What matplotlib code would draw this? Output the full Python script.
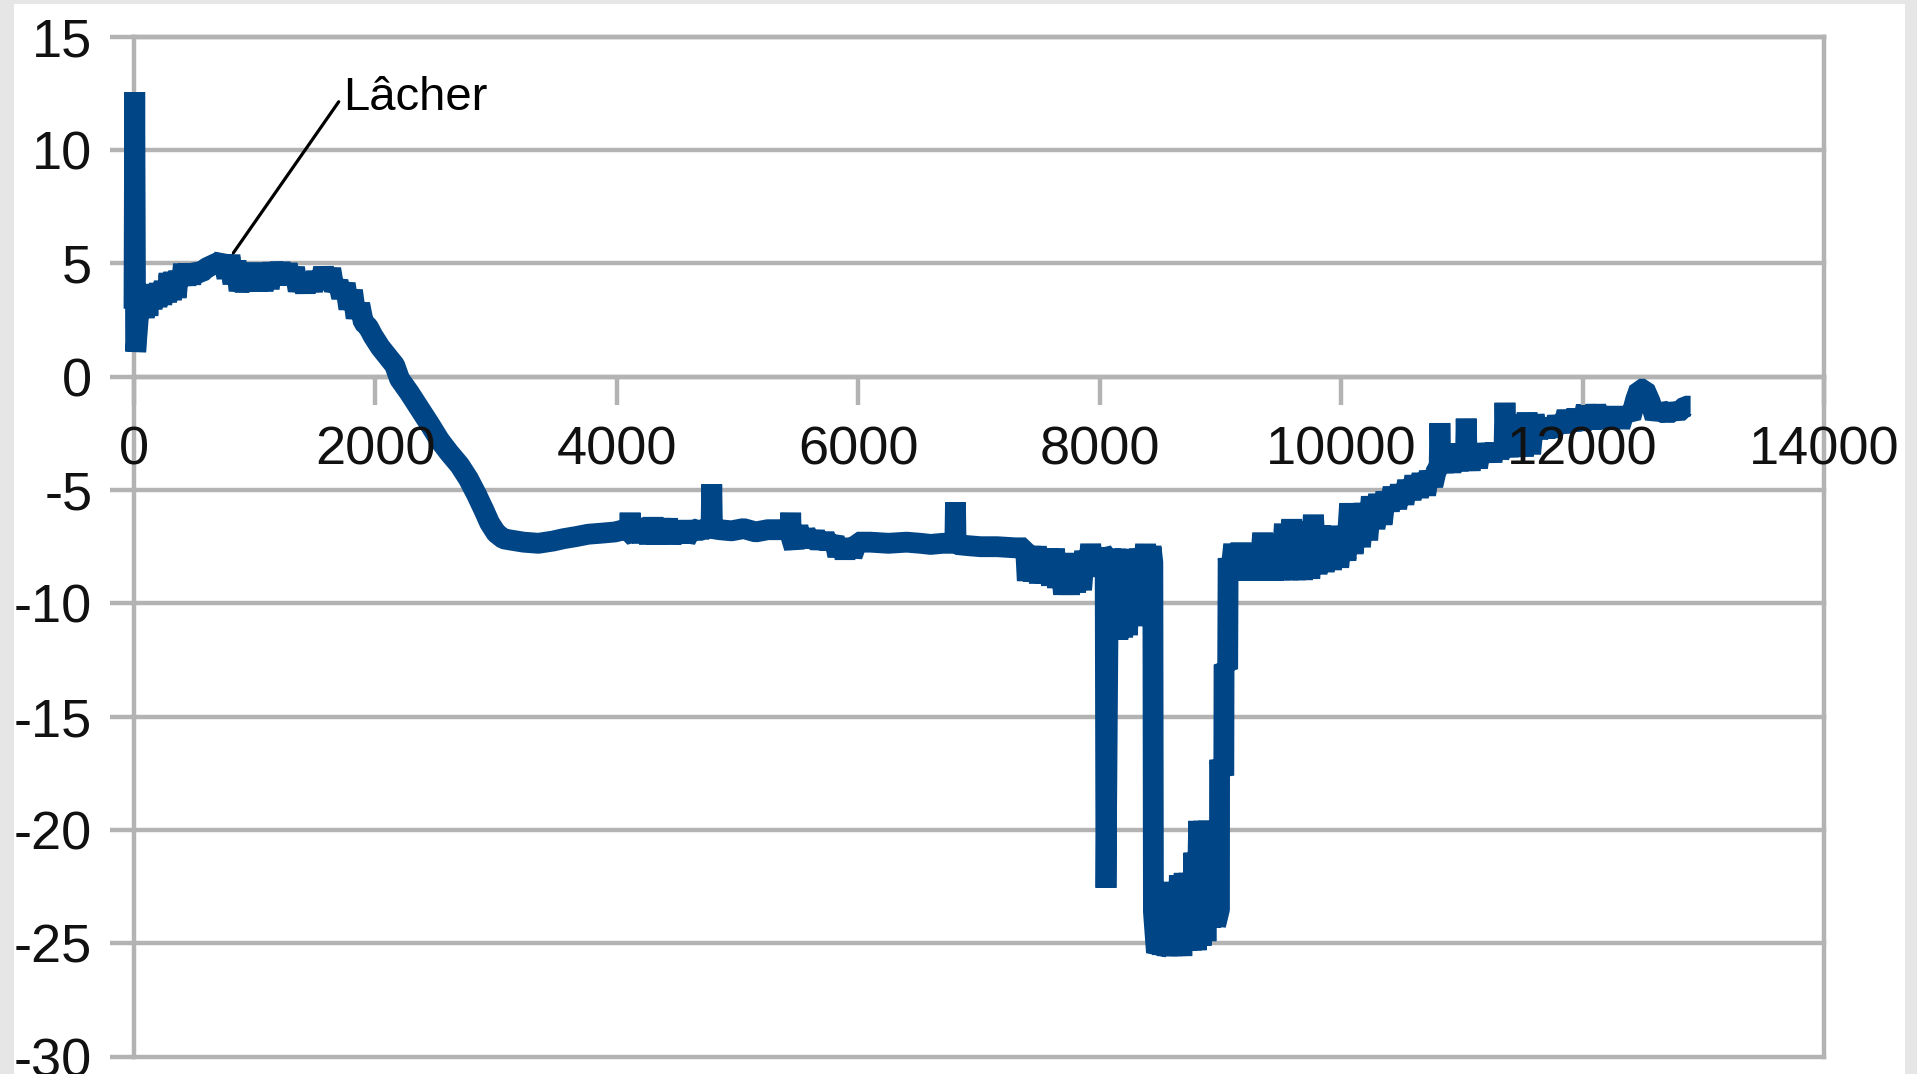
import matplotlib
matplotlib.use("Agg")
import matplotlib.pyplot as plt
from matplotlib.patches import Rectangle
import numpy as np

plt.rcParams['font.family'] = ['Liberation Sans', 'DejaVu Sans']

# ---------------- data ----------------
# start spike and plateau
x_start = [0, 6, 14, 40, 70, 85, 100, 115, 130, 150, 170, 190, 210, 230, 250, 270, 290,
           310, 330, 350, 370, 390, 410, 430, 450, 470, 490, 520, 560, 600, 640, 680,
           720, 745, 770, 795, 820, 845, 870, 895, 920, 945, 970, 995, 1020, 1045, 1070,
           1095, 1120, 1150, 1180, 1210, 1240, 1270, 1300, 1330, 1360, 1390, 1420, 1450,
           1480, 1510, 1540, 1570, 1600, 1630, 1660, 1690, 1720, 1750, 1780, 1810, 1840,
           1870, 1900, 1940, 1980, 2040, 2100, 2160]
y_start = [3.0, 12.55, 1.1, 2.9, 3.85, 2.6, 3.9, 2.7, 4.0, 3.0, 4.05, 3.1, 4.1, 3.2, 4.2, 3.3, 4.55,
           3.4, 4.6, 3.5, 4.65, 4.05, 4.95, 4.05, 4.95, 4.1, 4.9, 4.6, 4.6, 4.8, 4.9, 5.0,
           5.05, 5.3, 4.35, 5.35, 4.1, 5.1, 3.8, 4.4, 3.8, 4.85, 3.9, 5.0, 3.8, 4.8, 3.8,
           4.9, 3.9, 5.0, 4.1, 5.0, 4.15, 4.95, 4.1, 4.8, 3.8, 4.4, 3.75, 4.45,
           3.8, 4.6, 3.9, 4.8, 4.0, 4.75, 3.8, 4.2, 3.5, 4.1, 3.0, 3.8, 2.6,
           3.2, 2.4, 2.2, 1.8, 1.3, 0.9, 0.5]

# descent
x_descent = [2200, 2280, 2365, 2450, 2531, 2610, 2697, 2770, 2838, 2900, 2946, 3000, 3060]
y_descent = [-0.1, -0.7, -1.4, -2.1, -2.8, -3.35, -3.9, -4.5, -5.2, -5.9, -6.45, -6.9, -7.15]

# long flat part
x_flat = [3112, 3228, 3350, 3472, 3555, 3666, 3762, 3880, 3984, 4060, 4105, 4110, 4115,
          4150, 4180, 4210, 4240, 4270, 4300, 4330, 4360, 4390, 4420, 4450, 4480, 4510,
          4540, 4570, 4620, 4680, 4740, 4780, 4786, 4792, 4850, 4950, 5050, 5150, 5250,
          5350, 5435, 5440, 5445, 5470, 5500, 5530, 5560, 5600, 5640, 5680, 5720, 5760,
          5800, 5830, 5860, 5890, 5920, 5950, 5990, 6100, 6250, 6400, 6515, 6600, 6700,
          6800, 6805, 6810, 6900, 7013, 7150, 7300, 7386]
y_flat = [-7.2, -7.3, -7.35, -7.25, -7.15, -7.05, -6.95, -6.9, -6.85, -6.75, -6.8, -6.0, -6.9,
          -7.1, -6.3, -7.3, -6.3, -7.35, -6.25, -7.35, -6.3, -7.3, -6.3, -7.35, -6.4, -7.3,
          -6.4, -7.2, -6.7, -6.8, -6.7, -6.75, -4.75, -6.7, -6.75, -6.8, -6.7, -6.85, -6.75,
          -6.75, -6.7, -6.0, -7.1, -7.55, -6.6, -7.5, -6.8, -7.4, -6.9, -7.5, -7.0, -7.5,
          -7.1, -7.9, -7.2, -8.0, -7.2, -7.9, -7.3, -7.3, -7.35, -7.3, -7.35, -7.4, -7.35,
          -7.35, -5.55, -7.4, -7.45, -7.5, -7.5, -7.55, -7.55]

# noisy part and the two dips
x_dip = [7400, 7425, 7450, 7475, 7500, 7525, 7550, 7575, 7600, 7625, 7650, 7675, 7700,
         7725, 7750, 7775, 7800, 7825, 7850, 7875, 7900, 7925, 7950, 7975, 8000, 8020,
         8045, 8052, 8068, 8090, 8110, 8130, 8150, 8170, 8190, 8210, 8230, 8250, 8270,
         8290, 8310, 8330, 8355, 8380, 8405, 8425, 8440, 8445, 8470,
         8480, 8500, 8520, 8540, 8560, 8580, 8600, 8620, 8640, 8660, 8680, 8700, 8720,
         8740, 8760, 8780, 8800, 8820, 8840, 8860, 8880, 8900, 8920, 8940, 8960,
         8992, 8993, 9028, 9030, 9060, 9064]
y_dip = [-9.0, -7.5, -9.0, -7.5, -9.1, -7.6, -9.1, -7.6, -9.2, -7.6, -9.3, -7.9, -9.6,
         -7.8, -9.6, -8.0, -9.5, -8.0, -9.4, -7.7, -8.8, -7.4, -8.7, -7.6, -8.6, -7.7,
         -7.9, -22.55, -11.5, -7.6, -11.6, -7.6, -11.6, -7.7, -11.5, -7.6, -11.4, -7.8, -11.0,
         -7.7, -10.2, -7.6, -8.9, -7.4, -9.0, -7.5, -8.2, -23.6, -25.4,
         -25.3, -22.5, -25.5, -22.4, -25.55, -22.3, -25.55, -22.3, -25.55, -22.0, -25.55, -21.9, -25.3,
         -21.9, -25.3, -21.0, -25.3, -19.6, -25.1, -19.6, -24.9, -19.6, -24.3, -20.5, -24.2,
         -23.5, -16.9, -17.6, -12.7, -12.9, -8.0]

# recovery
x_rec = [9080, 9110, 9140, 9170, 9200, 9230, 9260, 9290, 9320, 9350, 9380, 9410, 9440,
         9470, 9500, 9530, 9560, 9590, 9620, 9650, 9680, 9710, 9740, 9770, 9800, 9830,
         9860, 9890, 9920, 9950, 9980, 10010, 10040, 10070, 10100, 10130, 10160, 10190,
         10220, 10250, 10280, 10310, 10340, 10370, 10400, 10430, 10460, 10490, 10520,
         10550, 10580, 10610, 10640, 10670, 10700, 10730, 10760, 10790, 10812, 10818,
         10824, 10850, 10880, 10910, 10940, 10970, 11000, 11030, 11036, 11042, 11070,
         11100, 11130, 11160, 11190, 11220, 11250, 11280, 11310, 11350, 11357, 11364,
         11390, 11420, 11450, 11480, 11510, 11540, 11570, 11600, 11630, 11660, 11690,
         11720, 11750, 11790, 11830, 11870, 11910, 11950, 11990, 12030, 12070, 12110,
         12150, 12190, 12230, 12270, 12310, 12350, 12400, 12440, 12470, 12515, 12560,
         12600, 12640, 12700, 12750, 12790, 12850, 12895]
y_rec = [-8.9, -7.4, -8.95, -7.35, -8.95, -7.5, -8.95, -7.4, -8.95, -6.9, -8.95, -7.0, -8.95,
         -7.3, -8.95, -6.5, -8.95, -6.3, -8.95, -6.6, -8.95, -6.4, -8.9, -6.1, -8.7, -6.6,
         -8.6, -6.6, -8.5, -6.8, -8.4, -6.7, -8.1, -5.6, -7.8, -5.8, -7.5, -5.6,
         -7.2, -5.3, -6.7, -5.2, -6.5, -5.1, -5.9, -4.9, -5.8, -4.8, -5.6,
         -4.6, -5.4, -4.4, -5.3, -4.3, -5.2, -4.2, -4.8, -4.1, -4.0, -2.05,
         -3.4, -4.2, -3.0, -4.2, -3.0, -4.1, -3.2, -3.6, -1.85, -3.3, -4.1,
         -3.0, -4.0, -3.0, -3.6, -3.1, -3.7, -3.0, -3.5, -3.0, -1.15, -2.6,
         -3.5, -2.3, -3.5, -1.7, -3.5, -1.6, -3.4, -1.7, -2.7, -1.9, -2.65,
         -1.9, -2.6, -1.8, -2.4, -1.55, -2.3, -1.5, -2.3, -1.3, -2.25, -1.3,
         -2.2, -1.45, -2.2, -1.4, -2.2, -1.5, -1.8, -1.0, -0.55, -0.55, -1.1,
         -1.8, -1.4, -1.7, -1.45, -1.6, -1.3, -1.3]

x_ticks = [0, 2000, 4000, 6000, 8000, 10000, 12000, 14000]
x_tick_labels = ['0', '2000', '4000', '6000', '8000', '10000', '12000', '14000']
y_ticks = [-30, -25, -20, -15, -10, -5, 0, 5, 10, 15]
y_tick_labels = ['-30', '-25', '-20', '-15', '-10', '-5', '0', '5', '10', '15']

annot_text = 'Lâcher'
annot_point = (823, 5.46)       # point on the curve
annot_line_start = (1696, 12.13)
annot_text_pos = (1730, 11.77)

# ---------------- figure ----------------
W, H = 1917, 1074
fig = plt.figure(figsize=(W / 100, H / 100), dpi=100)
fig.patch.set_facecolor('#e6e6e6')
fig.add_artist(Rectangle((14 / W, 0), (1905 - 14) / W, (H - 4) / H,
                         transform=fig.transFigure, facecolor='white',
                         edgecolor='none', zorder=-5))

ax = fig.add_axes([134 / W, 1 - 1056.7 / H, (1824 - 134) / W, (1056.7 - 36.7) / H])
ax.set_facecolor('white')

x = np.array(x_start + x_descent + x_flat + x_dip + x_rec, dtype=float)
y = np.array(y_start + y_descent + y_flat + y_dip + y_rec, dtype=float)
ax.plot(x, y, color='#004586', lw=15, solid_capstyle='butt',
        solid_joinstyle='bevel', zorder=2, clip_on=False)

ax.set_xlim(0, 14000)
ax.set_ylim(-30, 15)

grey = '#b3b3b3'
lw_axis = 3.2
for side in ['left', 'top', 'right', 'bottom']:
    ax.spines[side].set_color(grey)
    ax.spines[side].set_linewidth(lw_axis)
    ax.spines[side].set_zorder(0.6)
ax.spines['bottom'].set_position(('data', 0))

ax.set_xticks(x_ticks)
ax.set_xticklabels(x_tick_labels)
ax.set_yticks(y_ticks)
ax.set_yticklabels(y_tick_labels)

ax.tick_params(axis='x', direction='out', length=20, width=lw_axis, color=grey,
               pad=15, labelsize=39, labelcolor='#111111')
ax.tick_params(axis='y', direction='out', length=17, width=lw_axis, color=grey,
               pad=13, labelsize=39, labelcolor='#111111')

ax.yaxis.grid(True, color=grey, lw=lw_axis)
ax.xaxis.grid(False)
for gl in ax.get_ygridlines():
    gl.set_clip_on(False)
ax.yaxis.set_zorder(0.5)
ax.xaxis.set_zorder(2.5)

ax.annotate('', xy=annot_point, xytext=annot_line_start,
            arrowprops=dict(arrowstyle='-', color='black', lw=2.3,
                            shrinkA=0, shrinkB=0), zorder=4)
ax.text(annot_text_pos[0], annot_text_pos[1], annot_text, fontsize=34,
        ha='left', va='baseline', color='black', zorder=4)

fig.savefig('out.png', dpi=100, facecolor=fig.get_facecolor())
